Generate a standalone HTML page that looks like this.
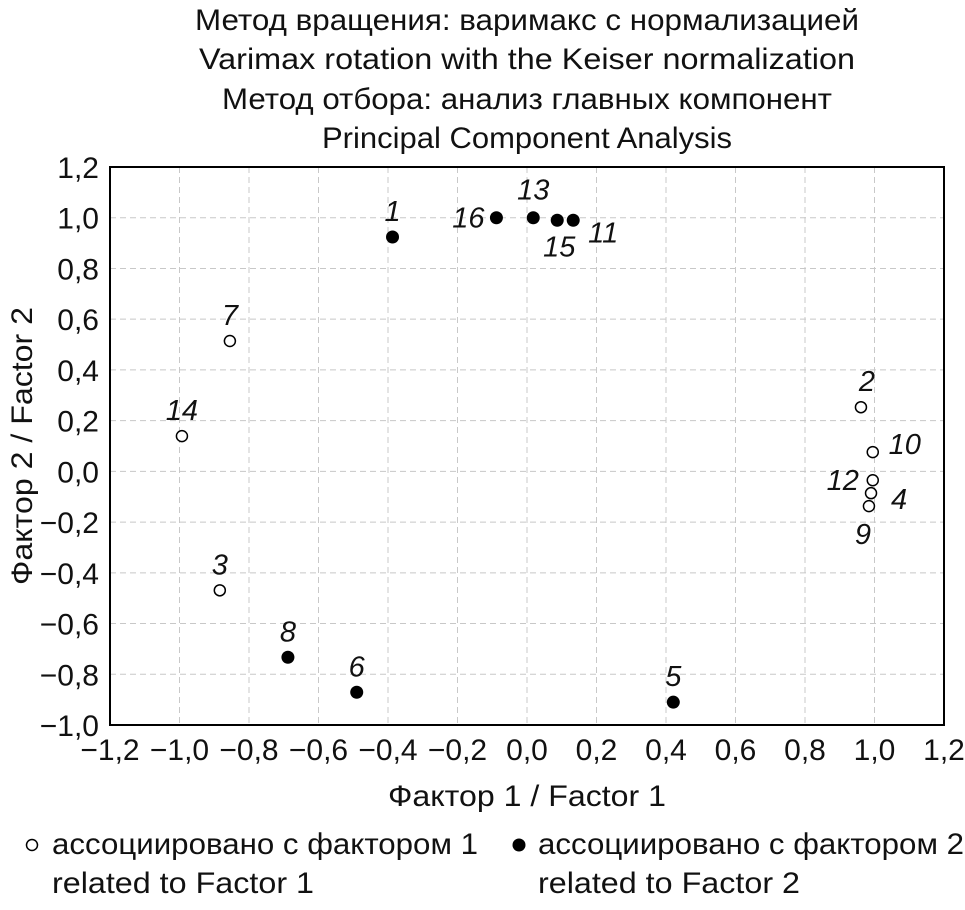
<!DOCTYPE html>
<html><head><meta charset="utf-8"><style>
body{margin:0;background:#fff;width:965px;height:905px;overflow:hidden;font-family:"Liberation Sans","DejaVu Sans",sans-serif}
svg text{font-family:"Liberation Sans","DejaVu Sans",sans-serif;fill:#111}
</style></head><body>
<svg id="c" width="965" height="905">
<g font-size="30" text-anchor="middle">
<text x="527" y="30" textLength="664" lengthAdjust="spacingAndGlyphs">Метод вращения: варимакс с нормализацией</text>
<text x="527" y="69" textLength="656" lengthAdjust="spacingAndGlyphs">Varimax rotation with the Keiser normalization</text>
<text x="527" y="109" textLength="610" lengthAdjust="spacingAndGlyphs">Метод отбора: анализ главных компонент</text>
<text x="527" y="148" textLength="410" lengthAdjust="spacingAndGlyphs">Principal Component Analysis</text>
</g>
<g id="grid"></g><g id="ticks"></g><g id="pts"></g>
<rect x="110" y="167" width="834" height="558" fill="none" stroke="#000" stroke-width="2"/>
<text x="527" y="806" font-size="30" text-anchor="middle" textLength="278" lengthAdjust="spacingAndGlyphs">Фактор 1 / Factor 1</text>
<text transform="translate(32,446) rotate(-90)" font-size="30" text-anchor="middle" textLength="278" lengthAdjust="spacingAndGlyphs">Фактор 2 / Factor 2</text>
<g font-size="30">
<circle cx="32" cy="845" r="5.5" fill="#fff" stroke="#000" stroke-width="1.5"/>
<text x="52" y="854" textLength="426" lengthAdjust="spacingAndGlyphs">ассоциировано с фактором 1</text>
<text x="52" y="893" textLength="262" lengthAdjust="spacingAndGlyphs">related to Factor 1</text>
<circle cx="519" cy="845" r="6.5" fill="#000"/>
<text x="538" y="854" textLength="426" lengthAdjust="spacingAndGlyphs">ассоциировано с фактором 2</text>
<text x="538" y="893" textLength="262" lengthAdjust="spacingAndGlyphs">related to Factor 2</text>
</g>
</svg>
<script>
const xTicks=[-1.2,-1.0,-0.8,-0.6,-0.4,-0.2,0.0,0.2,0.4,0.6,0.8,1.0,1.2];
const yTicks=[-1.0,-0.8,-0.6,-0.4,-0.2,0.0,0.2,0.4,0.6,0.8,1.0,1.2];
const labels=["1","16","13","15","11","7","14","3","8","6","5","2","10","12","4","9"];
const xVals=[-0.387,-0.088,0.018,0.087,0.133,-0.855,-0.993,-0.884,-0.688,-0.490,0.421,0.961,0.995,0.995,0.990,0.984];
const yVals=[0.924,1.0,1.0,0.99,0.99,0.514,0.139,-0.469,-0.733,-0.871,-0.91,0.253,0.076,-0.035,-0.086,-0.137];
const groups=[2,2,2,2,2,1,1,1,2,2,2,1,1,1,1,1];
const lblDx=[0,-28,0,2,30,0,0,0,0,0,0,6,32,-30,28,-6];
const lblDy=[-16,10,-18,36,22,-16,-16,-16,-16,-16,-16,-16,2,10,16,38];
const X=v=>110+(v+1.2)/2.4*834, Y=v=>725-(v+1.0)/2.2*558;
const NS="http://www.w3.org/2000/svg";
const fmt=v=>(v<0?"\u2212":"")+Math.abs(v).toFixed(1).replace(".",",");
const g=document.getElementById('grid'),t=document.getElementById('ticks'),p=document.getElementById('pts');
function mk(tag,a,parent){const e=document.createElementNS(NS,tag);for(const k in a)e.setAttribute(k,a[k]);parent.appendChild(e);return e;}
xTicks.forEach(v=>{const x=X(v);
 if(v>-1.19&&v<1.19){const l=mk('line',{x1:x,x2:x,y1:167,y2:725,stroke:'#c8c8c8','stroke-dasharray':'6,4'},g);
 
 }
 const tx=mk('text',{x:x,y:760,'font-size':30,'text-anchor':'middle'},t);tx.textContent=fmt(v);
 
 });
yTicks.forEach(v=>{const y=Y(v);
 if(v>-0.99&&v<1.19){const l=mk('line',{x1:110,x2:944,y1:y,y2:y,stroke:'#c8c8c8','stroke-dasharray':'6,4'},g);
 
 }
 const tx=mk('text',{x:99,y:y+11,'font-size':30,'text-anchor':'end'},t);tx.textContent=fmt(v);
 
 });
labels.forEach((lb,i)=>{const x=X(xVals[i]),y=Y(yVals[i]);
 const c=groups[i]==2?mk('circle',{cx:x,cy:y,r:6.5,fill:'#000'},p):mk('circle',{cx:x,cy:y,r:5.5,fill:'#fff',stroke:'#000','stroke-width':1.5},p);
 
 
 const tx=mk('text',{x:x+lblDx[i],y:y+lblDy[i],'font-size':29,'font-style':'italic','text-anchor':'middle'},p);tx.textContent=lb;
 
 });
</script>
</body></html>
